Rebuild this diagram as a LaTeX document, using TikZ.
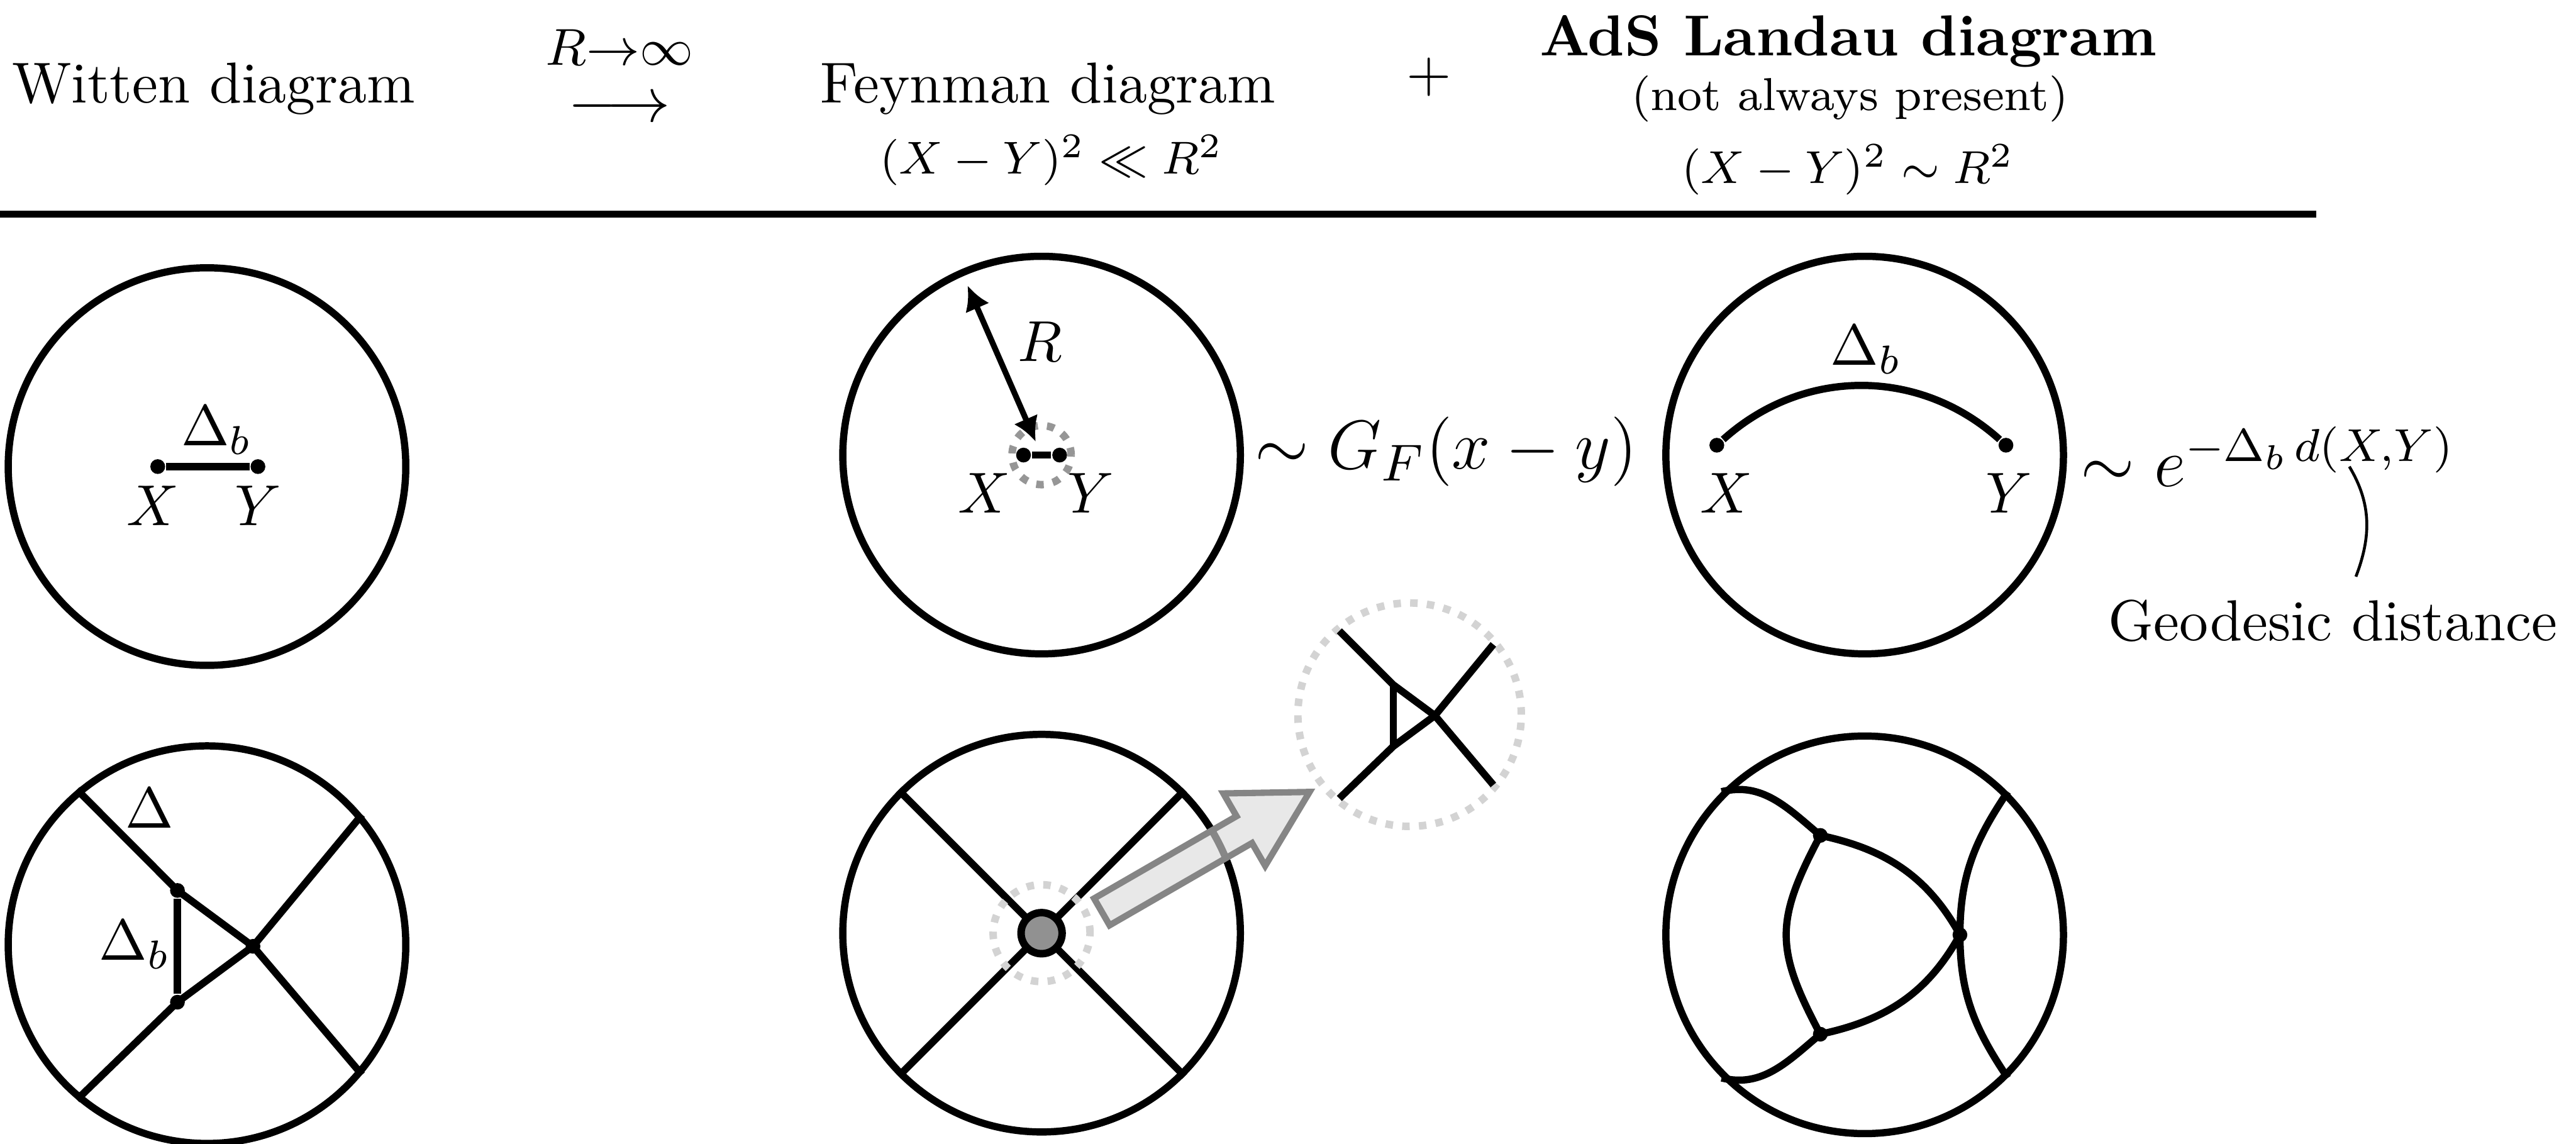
\documentclass[tikz,border=0pt]{standalone}
\usepackage{amsmath}
\usepackage{xcolor}
\usepackage{tikz}
\usetikzlibrary{arrows.meta, positioning, calc, shapes.arrows}
\definecolor{ringgray}{RGB}{150, 150, 150}
\definecolor{zoomgray}{RGB}{211, 211, 211}
\definecolor{blobgray}{RGB}{145, 145, 145}
\definecolor{arrowfill}{RGB}{218, 218, 218}
\definecolor{arrowedge}{RGB}{133, 133, 133}

\begin{document}
\begin{tikzpicture}[
    bulk/.style={circle, draw, line width=1.25pt, minimum size=2.42cm, inner sep=0pt},
    prop/.style={line width=1.25pt},
    vtx/.style={circle, fill, inner sep=0pt, minimum size=0.09cm},
    ring/.style={circle, draw=#1, line width=1.3pt, dash pattern=on 1.3pt off 1.6pt, inner sep=0pt},
    title/.style={anchor=base},
    cond/.style={anchor=base, font=\footnotesize},
    big/.style={inner sep=0pt, font=\fontsize{12.5}{15}\selectfont}
]
    \useasboundingbox (0,0) rectangle (15.68,-6.96);

    % Header
    \node[title] (witten) at (1.30,-0.625) {Witten diagram};
    \node[inner sep=0pt, font=\fontsize{11}{13}\selectfont] (limit) at (3.77,-0.67) {$\longrightarrow$};
    \node[inner sep=0pt, font=\fontsize{8.8}{10}\selectfont] (limitlabel) at (3.77,-0.29) {$R{\to}\infty$};
    \node[title] (feynman) at (6.38,-0.625) {Feynman diagram};
    \node[cond] (flat) at (6.40,-1.06) {$(X-Y)^2 \ll R^2$};
    \node (plus) at (8.70,-0.47) {$+$};
    \node[title, font=\bfseries] (landau) at (11.25,-0.34) {AdS Landau diagram};
    \node[cond] (present) at (11.26,-0.67) {(not always present)};
    \node[cond] (curved) at (11.25,-1.115) {$(X-Y)^2 \sim R^2$};
    \draw[line width=1.2pt] (0,-1.305) -- (14.10,-1.305);

    % Witten diagram, propagator
    \node[bulk] (w1) at (1.26,-2.84) {};
    \node[vtx] (w1x) at (0.96,-2.84) {};
    \node[vtx] (w1y) at (1.57,-2.84) {};
    \draw[prop] (w1x) -- (w1y);
    \node (w1d) at (1.32,-2.62) {$\Delta_b$};
    \node (w1xl) at (0.93,-3.08) {$X$};
    \node (w1yl) at (1.57,-3.08) {$Y$};

    % Feynman limit, propagator
    \node[bulk] (f1) at (6.34,-2.77) {};
    \node[ring=ringgray, minimum size=0.36cm] (f1zoom) at (f1) {};
    \node[vtx] (f1x) at (6.23,-2.77) {};
    \node[vtx] (f1y) at (6.45,-2.77) {};
    \draw[prop] (f1x) -- (f1y);
    \coordinate (f1in) at ($(f1)+(113.6:0.09)$);
    \coordinate (f1rim) at ($(f1)+(113.6:1.125)$);
    \draw[{Latex[length=4.2pt,width=4.5pt]}-{Latex[length=4.2pt,width=4.5pt]}, line width=1pt] (f1in) -- (f1rim);
    \node (f1r) at (6.33,-2.08) {$R$};
    \node (f1xl) at (5.99,-3.00) {$X$};
    \node (f1yl) at (6.64,-3.00) {$Y$};
    \node[big, anchor=west] (gf) at (7.63,-2.75) {$\sim G_F(x-y)$};

    % AdS Landau, propagator
    \node[bulk] (l1) at (11.35,-2.77) {};
    \node[vtx] (l1x) at (10.45,-2.71) {};
    \node[vtx] (l1y) at (12.21,-2.71) {};
    \draw[prop] (l1x) to[bend left=42] (l1y);
    \node (l1d) at (11.36,-2.13) {$\Delta_b$};
    \node (l1xl) at (10.51,-3.00) {$X$};
    \node (l1yl) at (12.23,-3.00) {$Y$};
    \node[big, font=\fontsize{12}{14}\selectfont, anchor=base west] (decay) at (12.66,-2.96) {$\sim e^{-\Delta_b\, d(X,Y)}$};
    \coordinate (dxy) at (14.30,-2.84);
    \node[title] (geo) at (14.20,-3.90) {Geodesic distance};
    \coordinate (geotop) at (14.34,-3.51);
    \draw[line width=0.5pt] (dxy) to[out=-59, in=69] (geotop);

    % Witten diagram, exchange
    \node[bulk] (w2) at (1.26,-5.75) {};
    \node[vtx] (w2a) at ($(w2)+(-0.18,0.33)$) {};
    \node[vtx] (w2b) at ($(w2)+(-0.18,-0.35)$) {};
    \node[vtx] (w2c) at ($(w2)+(0.28,-0.01)$) {};
    \draw[prop] (w2.130) -- (w2a.center) -- (w2c.center) -- (w2.-40);
    \draw[prop] (w2.230) -- (w2b.center) -- (w2c.center) -- (w2.40);
    \draw[prop] (w2a) -- (w2b);
    \node (w2d) at (0.91,-4.92) {$\Delta$};
    \node (w2db) at (0.82,-5.75) {$\Delta_b$};

    % Feynman limit, contact blob
    \node[bulk] (f2) at (6.34,-5.68) {};
    \draw[prop] (f2.135) -- (f2.-45);
    \draw[prop] (f2.45) -- (f2.-135);
    \node[ring=zoomgray, minimum size=0.59cm] (f2zoom) at (f2) {};
    \node[circle, draw, fill=blobgray, line width=1.3pt, minimum size=0.25cm, inner sep=0pt] (blob) at (f2) {};
    \node[single arrow, draw=arrowedge, fill=arrowfill, fill opacity=0.62, line width=1.1pt,
          minimum height=1.46cm, inner xsep=0pt, inner ysep=0.75mm,
          single arrow head extend=1.6mm, single arrow tip angle=58,
          rotate=30, anchor=tail] (zoomarrow) at (6.69,-5.56) {};

    % Inset
    \node[ring=zoomgray, minimum size=1.36cm] (inset) at (8.58,-4.35) {};
    \begin{scope}[shift={(inset.center)}, scale=0.55]
        \coordinate (ia) at (-0.18,0.33);
        \coordinate (ib) at (-0.18,-0.35);
        \coordinate (ic) at (0.28,-0.01);
        \draw[prop] (130:1.21) -- (ia) -- (ic) -- (-40:1.21);
        \draw[prop] (230:1.21) -- (ib) -- (ic) -- (40:1.21);
        \draw[prop] (ia) -- (ib);
    \end{scope}

    % AdS Landau, exchange
    \node[bulk] (l2) at (11.35,-5.69) {};
    \node[vtx] (l2a) at ($(l2)+(-0.27,0.605)$) {};
    \node[vtx] (l2b) at ($(l2)+(-0.27,-0.605)$) {};
    \node[vtx] (l2c) at ($(l2)+(0.58,0)$) {};
    \draw[prop] (l2.135) to[out=14, in=140] (l2a.center);
    \draw[prop] (l2a.center) to[out=-12, in=119] (l2c.center) to[out=-119, in=12] (l2b.center);
    \draw[prop] (l2b.center) to[out=-140, in=-14] (l2.225);
    \draw[prop] (l2a.center) to[out=-118, in=118, looseness=1.25] (l2b.center);
    \draw[prop] (l2.45) to[out=-124, in=90] (l2c.center) to[out=-90, in=124] (l2.-45);
\end{tikzpicture}
\end{document}
